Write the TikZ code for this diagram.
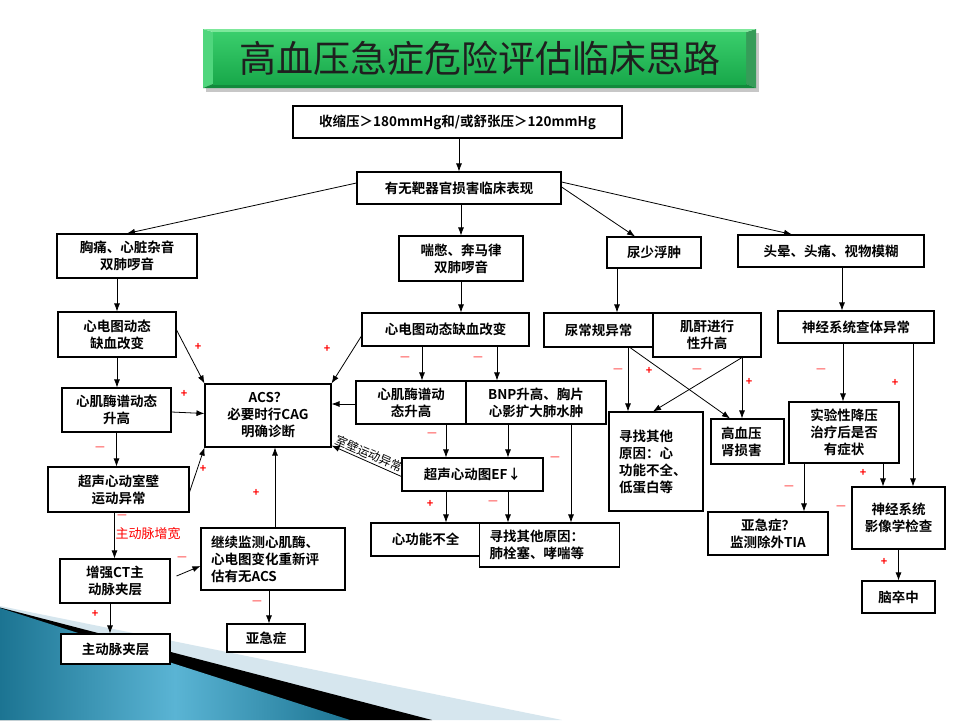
\documentclass[tikz,border=0pt]{standalone}
\usepackage{fontspec}
\setmainfont{Noto Sans CJK SC}[BoldFont={Noto Sans CJK SC Bold}]
\usepackage{tikz}
\usetikzlibrary{arrows,arrows.meta,shapes,calc}
\definecolor{barlight}{RGB}{125,232,155}
\definecolor{barside}{RGB}{80,214,125}
\definecolor{bartop}{RGB}{58,206,108}
\definecolor{barbottom}{RGB}{24,168,74}
\definecolor{bardark}{RGB}{18,138,60}
\definecolor{decoteal}{RGB}{28,116,146}
\definecolor{decolight}{RGB}{90,180,212}
\definecolor{decopale}{RGB}{214,230,238}
\newcommand{\boxline}{1.1pt}
\newcommand{\connline}{0.8pt}

\begin{document}
\begin{tikzpicture}[x=1pt,y=-1pt]
    \tikzset{flowbox/.style={draw, line width=\boxline, fill=white, align=center, inner sep=1pt,
                font=\bfseries\fontsize{13.5}{17}\selectfont},
             leftbox/.style={flowbox, align=left, inner xsep=10pt},
             conn/.style={-{Latex[length=8pt,width=6pt]}, line width=\connline},
             possign/.style={text=red, inner sep=0pt, font=\bfseries\fontsize{11}{11}\selectfont},
             negsign/.style={text=red, inner sep=0pt, font=\fontsize{11}{11}\selectfont}}
    \fill[white] (0,0) rectangle (960,720);
    \useasboundingbox (0,0) rectangle (960,720);

    \fill[decopale] (0,606) -- (562,720) -- (0,720) -- cycle;
    \fill[black] (0,607.5) -- (432,720) -- (0,720) -- cycle;
    \shade[left color=decoteal, right color=decoteal, middle color=decolight] (0,608) -- (350,720) -- (0,720) -- cycle;

    \fill[black!22] (206,33) rectangle (759,92);
    \fill[barside] (203,29) -- (213,32) -- (213,84) -- (203,88) -- cycle;
    \fill[bardark!85] (756,29) -- (746,32) -- (746,84) -- (756,88) -- cycle;
    \fill[barlight] (203,29) -- (213,32) -- (746,32) -- (756,29) -- cycle;
    \fill[bardark] (203,88) -- (213,84) -- (746,84) -- (756,88) -- cycle;
    \shade[top color=bartop, bottom color=barbottom] (213,32) rectangle (746,84);
    \node[text=black!88, font=\fontsize{37}{37}\selectfont] (title) at (479.5,58.5) {高血压急症危险评估临床思路};

    \node[flowbox, minimum width=329pt, minimum height=32pt] (bp) at (457.5,122) {收缩压＞180mmHg和/或舒张压＞120mmHg};
    \node[flowbox, minimum width=204pt, minimum height=32pt] (organ) at (459,188) {有无靶器官损害临床表现};

    \node[flowbox, minimum width=140pt, minimum height=44pt] (chest) at (127,256) {胸痛、心脏杂音\\双肺啰音};
    \node[flowbox, minimum width=124pt, minimum height=45pt] (dysp) at (461,258.5) {喘憋、奔马律\\双肺啰音};
    \node[flowbox, minimum width=94pt, minimum height=31pt] (oliguria) at (654,252.5) {尿少浮肿};
    \node[flowbox, minimum width=186pt, minimum height=32pt] (dizzy) at (831,251) {头晕、头痛、视物模糊};

    \node[flowbox, minimum width=118pt, minimum height=45pt] (ecgA) at (117,334.5) {心电图动态\\缺血改变};
    \node[flowbox, minimum width=167pt, minimum height=33pt] (ecgB) at (445.5,329.5) {心电图动态缺血改变};
    \node[flowbox, minimum width=109pt, minimum height=34pt] (urine) at (598.5,330) {尿常规异常};
    \node[flowbox, minimum width=108pt, minimum height=44pt] (creat) at (707,335) {肌酐进行\\性升高};
    \node[flowbox, minimum width=156pt, minimum height=32pt] (neuro) at (856,327) {神经系统查体异常};

    \node[flowbox, minimum width=109pt, minimum height=44pt] (enzA) at (116.5,410) {心肌酶谱动态\\升高};
    \node[flowbox, minimum width=126pt, minimum height=63pt] (acs) at (268,415.5) {ACS？\\必要时行CAG\\明确诊断};
    \node[flowbox, minimum width=110pt, minimum height=43pt] (enzB) at (411,402.5) {心肌酶谱动\\态升高};
    \node[flowbox, minimum width=140pt, minimum height=43pt] (bnp) at (536,402.5) {BNP升高、胸片\\心影扩大肺水肿};
    \node[leftbox, text width=74pt, minimum height=99pt] (other) at (656,461.5) {寻找其他\\原因：心\\功能不全、\\低蛋白等};
    \node[leftbox, text width=53pt, minimum height=45pt] (renal) at (747.5,441.5) {高血压\\肾损害};
    \node[flowbox, minimum width=110pt, minimum height=61pt] (trial) at (844,432.5) {实验性降压\\治疗后是否\\有症状};

    \node[flowbox, minimum width=141pt, minimum height=45pt] (echoA) at (118.5,489.5) {超声心动室壁\\运动异常};
    \node[flowbox, minimum width=141pt, minimum height=33pt] (echoEF) at (472.5,474.5) {超声心动图EF↓};
    \node[flowbox, minimum width=120pt, minimum height=43pt] (subA) at (768,533.5) {亚急症？\\监测除外TIA};
    \node[flowbox, minimum width=93pt, minimum height=62pt] (imaging) at (898.5,518) {神经系统\\影像学检查};

    \node[flowbox, minimum width=109pt, minimum height=33pt] (hf) at (425.5,539.5) {心功能不全};
    \node[leftbox, text width=120pt, minimum height=44pt] (otherB) at (549.5,545) {寻找其他原因：\\肺栓塞、哮喘等};
    \node[flowbox, minimum width=110pt, minimum height=44pt] (ct) at (115,581) {增强CT主\\动脉夹层};
    \node[leftbox, text width=124pt, minimum height=62pt] (monitor) at (273,559) {继续监测心肌酶、\\心电图变化重新评\\估有无ACS};
    \node[flowbox, minimum width=109pt, minimum height=30pt] (dissect) at (115.5,649) {主动脉夹层};
    \node[flowbox, minimum width=78pt, minimum height=28pt] (subB) at (266,638) {亚急症};
    \node[flowbox, minimum width=73pt, minimum height=32pt] (stroke) at (898.5,597) {脑卒中};

    \draw[conn] (organ.north |- bp.south) -- (organ.north);
    \draw[conn] ([yshift=5pt]organ.west) -- (chest.north);
    \draw[conn] (dysp.north |- organ.south) -- (dysp.north);
    \draw[conn] ([yshift=1pt]organ.east) -- ([xshift=-19pt]oliguria.north);
    \draw[conn] ([yshift=6pt]organ.east) -- ([xshift=-39pt]dizzy.north);

    \draw[conn] (ecgA.north |- chest.south) -- (ecgA.north);
    \draw[conn] (ecgA.south) -- (ecgA.south |- enzA.north);
    \draw[conn] (enzA.south) -- (enzA.south |- echoA.north);
    \draw[conn] ([yshift=4.5pt]ecgA.east) -- (acs.north west);
    \draw[conn] ([yshift=-2pt]enzA.east) -- ([yshift=2pt]acs.west);
    \draw[conn] ([yshift=-2.5pt]echoA.east) -- (acs.south west);
    \draw[conn] ([yshift=-6.5pt]ecgB.west) -- (acs.north east);
    \draw[conn] ([yshift=-1.5pt]enzB.west) -- ([yshift=-1.5pt]enzB.west -| acs.east);
    \draw[conn] ([yshift=-2pt]echoEF.west) -- node[sloped, above, inner sep=2pt, font=\fontsize{12}{12}\selectfont] (wall) {室壁运动异常} ([yshift=2pt]acs.south east);
    \draw[conn] ([xshift=2pt]monitor.north) -- ([xshift=2pt]monitor.north |- acs.south);
    \draw[conn] ([xshift=-4pt]echoA.south) -- ([xshift=-4pt]echoA.south |- ct.north);
    \draw[conn] ([xshift=6pt,yshift=5pt]ct.east) -- ([yshift=-7pt]monitor.west);
    \draw[conn] ([xshift=-5pt]ct.south) -- ([xshift=-5pt]ct.south |- dissect.north);
    \draw[conn] ([xshift=-4pt]monitor.south) -- ([xshift=-4pt]monitor.south |- subB.north);
    \node[text=red, font=\fontsize{13}{13}\selectfont] (widen) at (148,534) {主动脉增宽};

    \draw[conn] (dysp.south) -- (dysp.south |- ecgB.north);
    \draw[conn] ([xshift=-23.5pt]ecgB.south) -- ([xshift=-23.5pt]ecgB.south |- enzB.north);
    \draw[conn] ([xshift=51.5pt]ecgB.south) -- ([xshift=51.5pt]ecgB.south |- bnp.north);
    \draw[conn] ([xshift=35pt]enzB.south) -- ([xshift=35pt]enzB.south |- echoEF.north);
    \draw[conn] ([xshift=-28pt]bnp.south) -- ([xshift=-28pt]bnp.south |- echoEF.north);
    \draw[conn] ([xshift=35pt]bnp.south) -- ([xshift=35pt]bnp.south |- otherB.north);
    \draw[conn] ([xshift=-26.5pt]echoEF.south) -- ([xshift=-26.5pt]echoEF.south |- hf.north);
    \draw[conn] ([xshift=35.5pt]echoEF.south) -- ([xshift=35.5pt]echoEF.south |- otherB.north);

    \draw[conn] ([xshift=-37pt]oliguria.south) -- ([xshift=-37pt]oliguria.south |- urine.north);
    \draw[conn] ([xshift=29.5pt]urine.south) -- ([xshift=29.5pt]urine.south |- other.north);
    \draw[conn] ([xshift=31.5pt]urine.south) -- ([xshift=-17.5pt]renal.north);
    \draw[conn] ([xshift=35pt]creat.south) -- ([xshift=-3pt]other.north);
    \draw[conn] ([xshift=35pt]creat.south) -- ([xshift=35pt]creat.south |- renal.north);

    \draw[conn] ([xshift=11pt]dizzy.south) -- ([xshift=11pt]dizzy.south |- neuro.north);
    \draw[conn] ([xshift=-13pt]neuro.south) -- ([xshift=-13pt]neuro.south |- trial.north);
    \draw[conn] ([xshift=57pt]neuro.south) -- ([xshift=57pt]neuro.south |- imaging.north);
    \draw[conn] ([xshift=-40pt]trial.south) -- ([xshift=-40pt]trial.south |- subA.north);
    \draw[conn] ([xshift=39pt]trial.south) -- ([xshift=39pt]trial.south |- imaging.north);
    \draw[conn] (imaging.south) -- (imaging.south |- stroke.north);

    \foreach \px/\py [count=\i] in {198/347, 184/394, 203/469, 327/349, 256/493, 95/614, 430/504,
                                    649/371, 749/382, 895/383, 863/473, 884/562}
        \node[possign] (pos\i) at (\px,\py) {+};
    \foreach \px/\py [count=\i] in {100/449, 122/517, 182/559, 257/603, 405/359, 478/359, 432/435,
                                    555/459, 493/503, 618/371, 697/371, 821/371, 789/488, 841/508}
        \node[negsign] (neg\i) at (\px,\py) {—};
\end{tikzpicture}
\end{document}
